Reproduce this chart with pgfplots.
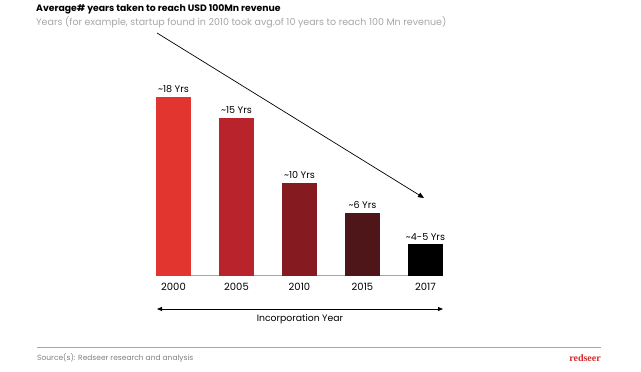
\documentclass[border=0pt]{standalone}
\usepackage{fontspec}
\setmainfont{Poppins}
\usepackage{pgfplots}
\pgfplotsset{compat=1.18}
\usetikzlibrary{arrows.meta}
\definecolor{cA}{HTML}{E3352F}
\definecolor{cB}{HTML}{B9232C}
\definecolor{cC}{HTML}{861A21}
\definecolor{cD}{HTML}{4E1618}
\definecolor{cE}{HTML}{000000}
\definecolor{subgray}{HTML}{A6A6A6}
\definecolor{logored}{HTML}{D62B2B}
\begin{document}
\begin{tikzpicture}[x=1pt,y=1pt]
\useasboundingbox (0,0) rectangle (641,372);
\node[anchor=west, inner sep=0pt, font=\bfseries\fontsize{9.3}{10}\selectfont] at (36,362.5) {Average\# years taken to reach USD 100Mn revenue};
\node[anchor=west, inner sep=0pt, text=subgray, font=\fontsize{9.5}{10}\selectfont] at (36,349.5) {Years (for example, startup found in 2010 took avg.of 10 years to reach 100 Mn revenue)};
\begin{axis}[
  at={(156pt,96pt)}, anchor=south west,
  x=1pt, y=9.94pt,
  xmin=156, xmax=443, ymin=0, ymax=18.5,
  axis x line=bottom, axis y line=none,
  x axis line style={-, draw=gray!70, line width=1pt},
  xtick={173.5,236.5,299.5,362.5,425.5},
  xticklabels={2000,2005,2010,2015,2017},
  major tick length=0pt,
  xticklabel style={font=\fontsize{10}{11}\selectfont, yshift=-4pt},
  ybar, bar width=35pt, bar shift=0pt,
  nodes near coords, point meta=explicit symbolic,
  every node near coord/.append style={font=\fontsize{9.6}{10}\selectfont, yshift=0.5pt},
  clip=false,
]
\addplot[fill=cA, draw=none] coordinates {(173.5,18.0) [\textasciitilde18 Yrs]};
\addplot[fill=cB, draw=none] coordinates {(236.5,15.9) [\textasciitilde15 Yrs]};
\addplot[fill=cC, draw=none] coordinates {(299.5,9.35) [\textasciitilde10 Yrs]};
\addplot[fill=cD, draw=none] coordinates {(362.5,6.35) [\textasciitilde6 Yrs]};
\addplot[fill=cE, draw=none] coordinates {(425.5,3.2) [\textasciitilde4-5 Yrs]};
\end{axis}
\draw[line width=0.7pt, -{Triangle[length=6pt,width=5pt]}] (157,339) -- (424,174);
\draw[line width=0.8pt, {Triangle[length=5pt,width=4pt]}-{Triangle[length=5pt,width=4pt]}] (157,63) -- (443,63);
\node[font=\fontsize{9.3}{10}\selectfont, inner sep=0pt] at (300,53) {Incorporation Year};
\draw[gray!70, line width=0.8pt] (37,25) -- (601,25);
\node[anchor=west, inner sep=0pt, text=gray, font=\fontsize{7.5}{9}\selectfont] at (37,14) {Source(s): Redseer research and analysis};
\node[anchor=east, inner sep=0pt, text=logored, font=\bfseries\fontsize{10}{10}\selectfont\fontspec{Liberation Serif}] at (601,14) {redseer};
\end{tikzpicture}
\end{document}
